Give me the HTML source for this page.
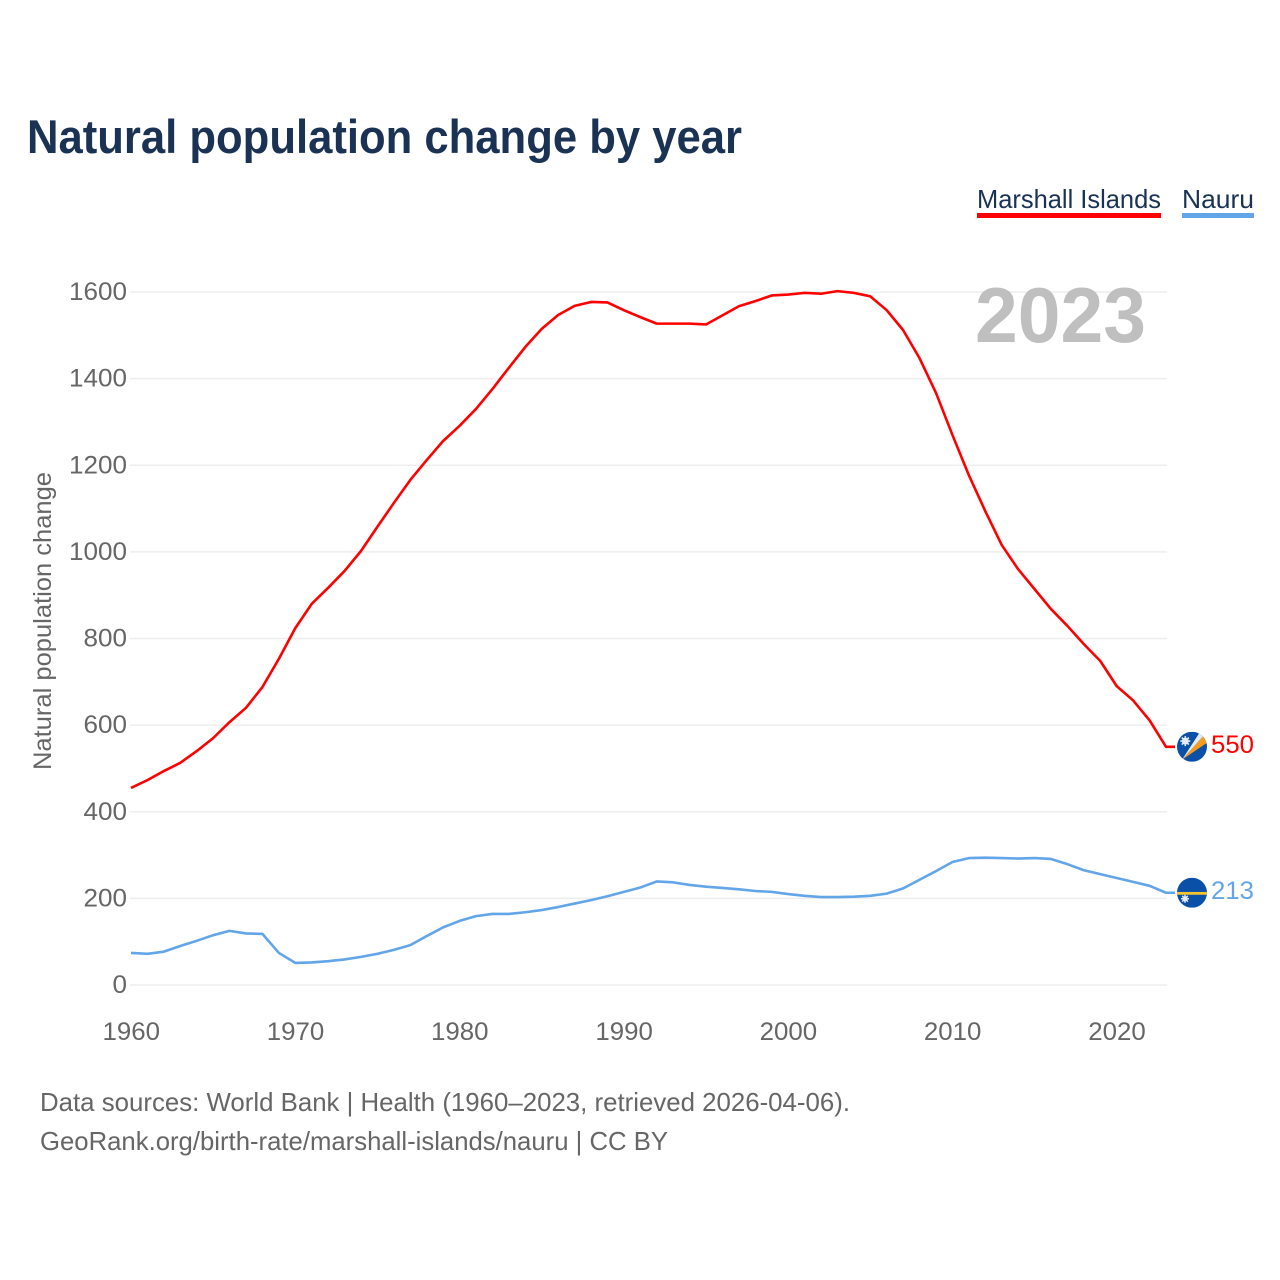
<!DOCTYPE html>
<html lang="en">
<head>
<meta charset="utf-8">
<title>Natural population change by year</title>
<style>
html,body{margin:0;padding:0;background:#fff;}
svg{display:block;font-family:"Liberation Sans",sans-serif;}
</style>
</head>
<body>
<svg id="chart" width="1280" height="1280" viewBox="0 0 1280 1280" xmlns="http://www.w3.org/2000/svg">
  <rect x="0" y="0" width="1280" height="1280" fill="#fff"/>
  <text x="27" y="153" font-size="47" font-weight="bold" fill="#1a3254" textLength="715" lengthAdjust="spacingAndGlyphs">Natural population change by year</text>
  <g id="grid"></g>
  <text x="975" y="342" font-size="78" font-weight="bold" fill="#bfbfbf" textLength="171" lengthAdjust="spacingAndGlyphs">2023</text>
  <g id="yticks" font-size="25" fill="#666"></g>
  <g id="xticks" font-size="25" fill="#666"></g>
  <text transform="translate(51,770) rotate(-90)" font-size="25" fill="#666" textLength="298" lengthAdjust="spacingAndGlyphs">Natural population change</text>
  <g id="series"></g>

  <g>
    <text x="977" y="208" font-size="26" fill="#1a3254" textLength="184" lengthAdjust="spacingAndGlyphs">Marshall Islands</text>
    <rect x="977" y="213" width="184" height="5" fill="#ff0000"/>
  </g>
  <g>
    <text x="1182" y="208" font-size="26" fill="#1a3254" textLength="72" lengthAdjust="spacingAndGlyphs">Nauru</text>
    <rect x="1182" y="213" width="72" height="5" fill="#62a5e8"/>
  </g>

  <defs>
    <clipPath id="clip-mh"><circle cx="0" cy="0" r="15"/></clipPath>
    <clipPath id="clip-nr"><circle cx="0" cy="0" r="15"/></clipPath>
  </defs>
  <g id="flag-mh">
    <g clip-path="url(#clip-mh)">
      <rect x="-15" y="-15" width="30" height="30" fill="#0a50a8"/>
      <polygon points="-10,13 11,-10.5 15,-4" fill="#f59c1d"/>
      <polygon points="-10,13 7.5,-14 11,-10.5" fill="#e6ebf3"/>
      <g transform="translate(-6.7,-5.7)" fill="#e6ebf3">
        <circle r="3.4"/>
        <rect x="-0.8" y="-5" width="1.6" height="10"/>
        <rect x="-5" y="-0.8" width="10" height="1.6"/>
        <rect x="-0.8" y="-5" width="1.6" height="10" transform="rotate(45)"/>
        <rect x="-5" y="-0.8" width="10" height="1.6" transform="rotate(45)"/>
      </g>
    </g>
  </g>
  <g id="flag-nr">
    <g clip-path="url(#clip-nr)">
      <rect x="-15" y="-15" width="30" height="30" fill="#0a50a8"/>
      <rect x="-15" y="-0.8" width="30" height="2.8" fill="#f4c430"/>
      <g transform="translate(-7,6)" fill="#e6ebf3">
        <circle r="2.6"/>
        <rect x="-0.7" y="-4" width="1.4" height="8"/>
        <rect x="-4" y="-0.7" width="8" height="1.4"/>
        <rect x="-0.7" y="-4" width="1.4" height="8" transform="rotate(45)"/>
        <rect x="-4" y="-0.7" width="8" height="1.4" transform="rotate(45)"/>
      </g>
    </g>
  </g>
  <text id="end-mh" x="1211" font-size="25" fill="#ff0000" textLength="43" lengthAdjust="spacingAndGlyphs"></text>
  <text id="end-nr" x="1211" font-size="25" fill="#62a5e8" textLength="43" lengthAdjust="spacingAndGlyphs"></text>

  <text x="40" y="1111" font-size="26" fill="#666" textLength="810" lengthAdjust="spacingAndGlyphs">Data sources: World Bank | Health (1960–2023, retrieved 2026-04-06).</text>
  <text x="40" y="1150" font-size="26" fill="#666" textLength="628" lengthAdjust="spacingAndGlyphs">GeoRank.org/birth-rate/marshall-islands/nauru | CC BY</text>
</svg>
<script>
const startYear = 1960;
const yTickValues = [0, 200, 400, 600, 800, 1000, 1200, 1400, 1600];
const xTickYears = [1960, 1970, 1980, 1990, 2000, 2010, 2020];
const marshallIslands = [455,473,494,513,540,570,607,640,688,753,824,880,917,956,1002,1058,1113,1166,1212,1256,1291,1330,1376,1425,1473,1515,1547,1568,1577,1576,1558,1542,1527,1527,1527,1525,1546,1567,1579,1592,1594,1598,1596,1602,1598,1590,1558,1512,1447,1367,1270,1177,1094,1016,960,914,868,829,787,748,690,657,611,550];
const nauru = [74,72,77,90,102,115,125,119,118,74,51,52,55,59,65,72,81,92,113,133,148,159,164,164,168,173,180,188,196,205,215,225,239,237,231,227,224,221,217,215,210,206,203,203,204,206,211,223,243,263,284,293,294,293,292,293,291,279,265,256,247,238,229,213];

const NS = 'http://www.w3.org/2000/svg';
const plotLeft = 131, plotRight = 1166, plotBottom = 985, plotTop = 292;
const yearSpan = 63, yMax = 1600;
function xScale(year) { return plotLeft + (year - startYear) * (plotRight - plotLeft) / yearSpan; }
function yScale(v) { return plotBottom - v * (plotBottom - plotTop) / yMax; }

const gridG = document.getElementById('grid');
const yG = document.getElementById('yticks');
const xG = document.getElementById('xticks');
const seriesG = document.getElementById('series');

yTickValues.forEach(function (v) {
  const line = document.createElementNS(NS, 'line');
  
  
  line.setAttribute('x1', plotLeft - 1);
  line.setAttribute('x2', plotRight + 1);
  line.setAttribute('y1', yScale(v));
  line.setAttribute('y2', yScale(v));
  line.setAttribute('stroke', '#eeeeee');
  line.setAttribute('stroke-width', '1.5');
  gridG.appendChild(line);

  const label = String(v);
  const t = document.createElementNS(NS, 'text');
  
  
  t.setAttribute('x', 127 - label.length * 14.5);
  t.setAttribute('y', yScale(v) + 8);
  t.setAttribute('textLength', label.length * 14.5);
  t.setAttribute('lengthAdjust', 'spacingAndGlyphs');
  t.textContent = label;
  yG.appendChild(t);
});

xTickYears.forEach(function (yr) {
  const t = document.createElementNS(NS, 'text');
  
  
  t.setAttribute('x', xScale(yr) - 28.5);
  t.setAttribute('y', 1040);
  t.setAttribute('textLength', 57.5);
  t.setAttribute('lengthAdjust', 'spacingAndGlyphs');
  t.textContent = String(yr);
  xG.appendChild(t);
});

function drawSeries(values, color, name) {
  const parts = values.map(function (v, i) {
    return xScale(startYear + i).toFixed(2) + ',' + yScale(v).toFixed(2);
  });
  const last = values[values.length - 1];
  parts.push((plotRight + 9) + ',' + yScale(last).toFixed(2));
  const p = document.createElementNS(NS, 'polyline');
  
  
  p.setAttribute('points', parts.join(' '));
  p.setAttribute('fill', 'none');
  p.setAttribute('stroke', color);
  p.setAttribute('stroke-width', '2.6');
  p.setAttribute('stroke-linejoin', 'round');
  seriesG.appendChild(p);
}
drawSeries(nauru, '#62a5e8', 'series-nauru');
drawSeries(marshallIslands, '#ff0000', 'series-marshall-islands');

const mhLast = marshallIslands[marshallIslands.length - 1];
const nrLast = nauru[nauru.length - 1];
document.getElementById('flag-mh').setAttribute('transform', 'translate(1192,' + yScale(mhLast) + ')');
document.getElementById('flag-nr').setAttribute('transform', 'translate(1192,' + yScale(nrLast) + ')');
const endMh = document.getElementById('end-mh');
endMh.setAttribute('y', yScale(mhLast) + 6);
endMh.textContent = String(mhLast);
const endNr = document.getElementById('end-nr');
endNr.setAttribute('y', yScale(nrLast) + 6.5);
endNr.textContent = String(nrLast);
</script>
</body>
</html>
